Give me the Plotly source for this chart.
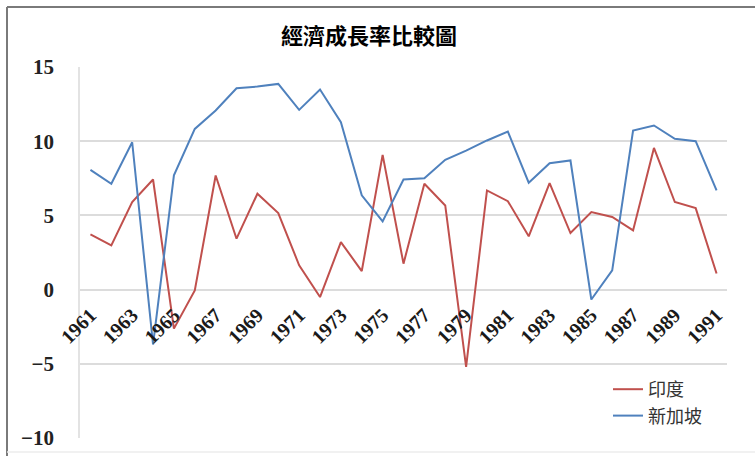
import plotly.graph_objects as go

years = list(range(1961, 1992))
india = [3.72, 2.98, 5.9, 7.42, -2.63, -0.06, 7.69, 3.43, 6.46, 5.16,
         1.64, -0.5, 3.2, 1.25, 9.08, 1.75, 7.13, 5.67, -5.2, 6.68,
         5.96, 3.59, 7.17, 3.81, 5.22, 4.89, 3.99, 9.55, 5.9, 5.49, 1.08]
singapore = [8.07, 7.13, 9.93, -3.7, 7.7, 10.83, 12.07, 13.57, 13.68, 13.86,
             12.11, 13.48, 11.28, 6.35, 4.6, 7.42, 7.51, 8.75, 9.37, 10.05,
             10.65, 7.2, 8.52, 8.7, -0.67, 1.3, 10.72, 11.06, 10.16, 10.0, 6.68]
tick_years = list(range(1961, 1992, 2))
y_ticks = [-10, -5, 0, 5, 10, 15]
title_text = "經濟成長率比較圖"
names = ["印度", "新加坡"]

fig = go.Figure()
fig.add_trace(go.Scatter(x=years, y=india, name=names[0], mode="lines",
                         line=dict(color="#c0504d", width=2)))
fig.add_trace(go.Scatter(x=years, y=singapore, name=names[1], mode="lines",
                         line=dict(color="#4f81bd", width=2)))

W, H = 755, 456
PW, PH = 647, 371
fig.update_layout(
    width=W, height=H,
    margin=dict(l=80, r=28, t=67, b=18, autoexpand=False),
    paper_bgcolor="white", plot_bgcolor="white",
    title=dict(text=title_text, x=369 / W, xref="container", xanchor="center",
               y=1 - 36 / H, yref="container", yanchor="middle",
               font=dict(family="Noto Sans CJK TC", size=22, color="black", weight="bold")),
    legend=dict(xref="paper", yref="paper", x=(608 - 80) / PW, y=(438 - 371) / PH,
                xanchor="left", yanchor="top", itemwidth=30,
                font=dict(family="Noto Sans CJK TC", size=18, color="#333333"),
                bgcolor="rgba(0,0,0,0)", tracegroupgap=0),
    showlegend=True,
)
fig.update_xaxes(range=[1960.5, 1991.5], tickvals=tick_years,
                 ticktext=[str(y) for y in tick_years], tickangle=-45,
                 anchor="free", position=0.4, showgrid=False, zeroline=False,
                 showline=False, ticks="", ticklabelstandoff=9,
                 tickfont=dict(family="Liberation Serif", size=20, color="#1a1a1a", weight="bold"))
fig.update_yaxes(range=[-10, 15], tickvals=y_ticks, showgrid=True,
                 gridcolor="#dcdcdc", gridwidth=1.5, zeroline=False,
                 showline=True, linecolor="#e3e3e3", linewidth=1.5,
                 ticks="", ticklabelstandoff=20,
                 tickfont=dict(family="Liberation Serif", size=21, color="#222222", weight="bold"))

# frame of the chart (left and top dark, bottom light)
fig.add_shape(type="line", xref="paper", yref="paper", x0=-73 / PW, x1=-73 / PW,
              y0=1 + 60 / PH, y1=-18 / PH, line=dict(color="#7a7a7a", width=2))
fig.add_shape(type="line", xref="paper", yref="paper", x0=-73 / PW, x1=1 + 28 / PW,
              y0=1 + 60 / PH, y1=1 + 60 / PH, line=dict(color="#7a7a7a", width=2))
fig.add_shape(type="line", xref="paper", yref="paper", x0=-73 / PW, x1=1 + 28 / PW,
              y0=-14 / PH, y1=-14 / PH, line=dict(color="#ececec", width=1.5))

fig.write_html("out.html")
